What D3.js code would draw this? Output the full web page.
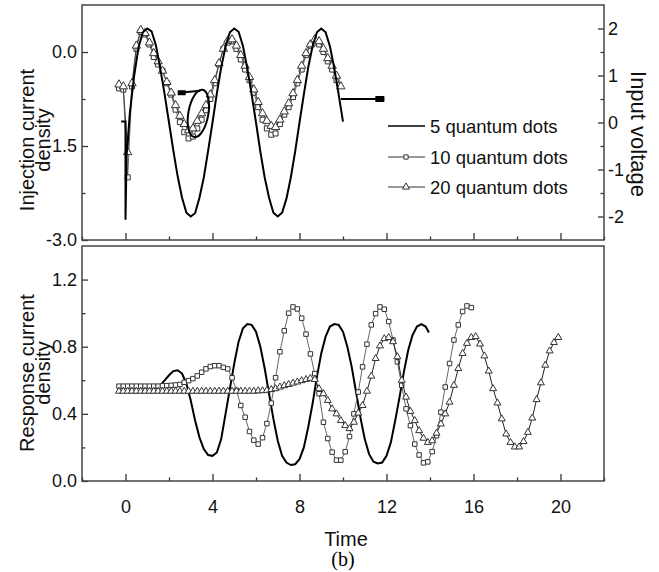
<!DOCTYPE html>
<html>
<head>
<meta charset="utf-8">
<script src="https://cdn.jsdelivr.net/npm/d3@7"></script>
<style>
  body { margin: 0; background: #fff; }
  text { font-family: "Liberation Sans", Arial, sans-serif; }
</style>
</head>
<body>
<script>
// ---- data ----
// x tick values
const xTicks = [0, 4, 8, 12, 16, 20];
const xMinor = [-2, 2, 6, 10, 14, 18, 22];
const topLeftTicks = [0.0, -1.5, -3.0];
const topLeftMinor = [-0.75, -2.25];
const topRightTicks = [2, 1, 0, -1, -2];
const topRightMinor = [1.5, 0.5, -0.5, -1.5];
const botTicks = [0.0, 0.4, 0.8, 1.2];
const botMinor = [0.2, 0.6, 1.0];

const seriesNames = ["5 quantum dots", "10 quantum dots", "20 quantum dots"];

// top panel, solid line = input voltage (right axis)
const topVoltTime = [-0.2, 0, 0, 0.05, 0.2, 0.4, 0.6, 0.8,
  1.0, 1.2, 1.4, 1.6, 1.8, 2.0, 2.2, 2.4, 2.6, 2.8,
  3.0, 3.2, 3.4, 3.6, 3.8, 4.0, 4.2, 4.4, 4.6, 4.8,
  5.0, 5.2, 5.4, 5.6, 5.8, 6.0, 6.2, 6.4, 6.6, 6.8,
  7.0, 7.2, 7.4, 7.6, 7.8, 8.0, 8.2, 8.4, 8.6, 8.8,
  9.0, 9.2, 9.4, 9.6, 9.8, 10.0];
const topVolt = [0.02, 0.02, -2.07, -0.7, 0.2, 1.0, 1.6, 1.92,
  2.0, 1.94, 1.64, 1.14, 0.6, 0.0, -0.6, -1.15, -1.6, -1.92,
  -2.0, -1.93, -1.6, -1.17, -0.6, 0.0, 0.62, 1.17, 1.62, 1.92,
  2.0, 1.93, 1.63, 1.15, 0.6, 0.0, -0.62, -1.17, -1.6, -1.92,
  -2.0, -1.92, -1.62, -1.17, -0.62, 0.0, 0.6, 1.17, 1.62, 1.92,
  2.0, 1.92, 1.62, 1.15, 0.6, 0.02];

// top panel markers = injection current density (left axis), sampled every 0.2 from t=-0.3
const topStart = -0.3, topStep = 0.2;
const top10 = [-0.58, -0.6, -2.0, -0.55, 0.05, 0.32, 0.28, 0.12, -0.08, -0.2,
  -0.3, -0.5, -0.68, -0.92, -1.12, -1.28, -1.38, -1.35, -1.22, -1.08,
  -0.93, -0.75, -0.5, -0.2, 0.05, 0.15, 0.17, 0.05, -0.12, -0.28,
  -0.45, -0.65, -0.88, -1.08, -1.22, -1.32, -1.3, -1.15, -1.0, -0.88,
  -0.72, -0.5, -0.28, -0.05, 0.1, 0.15, 0.12, 0.0, -0.15, -0.28, -0.45];
const top20 = [-0.52, -0.55, -1.6, -0.5, 0.1, 0.35, 0.3, 0.15, -0.02, -0.15,
  -0.3, -0.48, -0.65, -0.85, -1.02, -1.15, -1.25, -1.22, -1.1, -0.98,
  -0.85, -0.68, -0.45, -0.18, 0.05, 0.18, 0.2, 0.1, -0.05, -0.22,
  -0.4, -0.6, -0.8, -0.98, -1.1, -1.18, -1.2, -1.08, -0.95, -0.82,
  -0.66, -0.45, -0.22, -0.02, 0.12, 0.2, 0.17, 0.05, -0.1, -0.22, -0.38, -0.55];

// bottom panel, response current density
const bot5Time = [-0.4, 0, 1.0, 1.6, 1.8, 2.0, 2.2, 2.4, 2.6, 2.8,
  3.0, 3.2, 3.4, 3.6, 3.8, 4.0, 4.2, 4.4, 4.6, 4.8,
  5.0, 5.2, 5.4, 5.6, 5.8, 6.0, 6.2, 6.4, 6.6, 6.8,
  7.0, 7.2, 7.4, 7.6, 7.8, 8.0, 8.2, 8.4, 8.6, 8.8,
  9.0, 9.2, 9.4, 9.6, 9.8, 10.0, 10.2, 10.4, 10.6, 10.8,
  11.0, 11.2, 11.4, 11.6, 11.8, 12.0, 12.2, 12.4, 12.6, 12.8,
  13.0, 13.2, 13.4, 13.6, 13.8, 13.95];
const bot5 = [0.56, 0.56, 0.56, 0.57, 0.6, 0.63, 0.655, 0.66, 0.64, 0.58,
  0.48, 0.36, 0.26, 0.19, 0.155, 0.15, 0.17, 0.25, 0.4, 0.55,
  0.7, 0.83, 0.91, 0.935, 0.93, 0.89, 0.8, 0.67, 0.52, 0.37,
  0.24, 0.15, 0.11, 0.095, 0.1, 0.13, 0.2, 0.32, 0.46, 0.62,
  0.76, 0.86, 0.92, 0.935, 0.93, 0.89, 0.8, 0.68, 0.53, 0.38,
  0.25, 0.16, 0.115, 0.105, 0.11, 0.15, 0.23, 0.36, 0.5, 0.65,
  0.78, 0.87, 0.92, 0.935, 0.92, 0.885];

// markers sampled every 0.2 from t=-0.3
const botStart = -0.3, botStep = 0.2;
const bot10 = [0.565, 0.565, 0.565, 0.565, 0.565, 0.565, 0.565, 0.565, 0.565, 0.565,
  0.567, 0.568, 0.57, 0.572, 0.575, 0.588, 0.598, 0.61, 0.626, 0.648,
  0.668, 0.682, 0.687, 0.687, 0.677, 0.668, 0.615, 0.54, 0.45, 0.38,
  0.295, 0.243, 0.22, 0.258, 0.342, 0.464, 0.615, 0.77, 0.895, 1.0,
  1.037, 1.025, 0.97, 0.875, 0.757, 0.64, 0.52, 0.35, 0.253, 0.172,
  0.124, 0.124, 0.174, 0.265, 0.4, 0.53, 0.68, 0.815, 0.93, 0.997,
  1.037, 1.023, 0.95, 0.84, 0.71, 0.57, 0.43, 0.33, 0.22, 0.155,
  0.108, 0.114, 0.175, 0.27, 0.41, 0.56, 0.7, 0.84, 0.93, 1.01,
  1.043, 1.033];
const bot20 = [0.535, 0.535, 0.535, 0.535, 0.535, 0.535, 0.535, 0.535, 0.535, 0.535,
  0.535, 0.535, 0.535, 0.535, 0.535, 0.535, 0.535, 0.535, 0.535, 0.535,
  0.535, 0.535, 0.535, 0.535, 0.535, 0.535, 0.535, 0.535, 0.535, 0.535,
  0.535, 0.535, 0.537, 0.538, 0.54, 0.545, 0.55, 0.56, 0.568, 0.575,
  0.583, 0.59, 0.598, 0.605, 0.612, 0.605, 0.55, 0.52, 0.48, 0.43,
  0.4, 0.36, 0.33, 0.312, 0.35, 0.405, 0.45, 0.535, 0.625, 0.73,
  0.805, 0.848, 0.855, 0.83, 0.74, 0.6, 0.5, 0.415, 0.36, 0.3,
  0.255, 0.23, 0.24, 0.285, 0.34, 0.4, 0.47, 0.57, 0.67, 0.76,
  0.82, 0.855, 0.86, 0.816, 0.745, 0.655, 0.55, 0.465, 0.37, 0.28,
  0.23, 0.203, 0.203, 0.235, 0.29, 0.375, 0.485, 0.585, 0.69, 0.775,
  0.825, 0.855];

// ---- drawing ----
let width = 659;
let height = 572;
let svg = d3.select("body").append("svg")
  .attr("width", width).attr("height", height);

let xScale = d3.scaleLinear().domain([-2, 22]).range([82, 604]);
let yTopL = d3.scaleLinear().domain([-3, 0.75]).range([240, 5]);
let yTopR = d3.scaleLinear().domain([-2.5, 2.5]).range([240, 5]);
let yBot = d3.scaleLinear().domain([0, 1.4]).range([481, 246]);

function hyphen(f) { return d => f(d).replace("\u2212", "-"); }

function addAxis(axis, tx, ty) {
  let g = svg.append("g").attr("transform", "translate(" + tx + "," + ty + ")").call(axis);
  g.select(".domain").remove();
  g.selectAll("line").attr("stroke", "#333").attr("stroke-width", 1.3);
  g.selectAll("text").style("font-size", "18px").attr("fill", "#111");
  return g;
}

// top panel axes
addAxis(d3.axisBottom(xScale).tickValues(xTicks).tickSize(-7).tickFormat(""), 0, 240);
addAxis(d3.axisBottom(xScale).tickValues(xMinor).tickSize(-3.5).tickFormat(""), 0, 240);
addAxis(d3.axisLeft(yTopL).tickValues(topLeftTicks).tickSize(-6).tickPadding(5)
  .tickFormat(hyphen(d3.format(".1f"))), 82, 0);
addAxis(d3.axisLeft(yTopL).tickValues(topLeftMinor).tickSize(-3.5).tickFormat(""), 82, 0);
addAxis(d3.axisRight(yTopR).tickValues(topRightTicks).tickSize(-6).tickPadding(4)
  .tickFormat(hyphen(d3.format("d"))), 604, 0);
addAxis(d3.axisRight(yTopR).tickValues(topRightMinor).tickSize(-3.5).tickFormat(""), 604, 0);

// bottom panel axes
addAxis(d3.axisBottom(xScale).tickValues(xTicks).tickSize(-7).tickPadding(19)
  .tickFormat(d3.format("d")), 0, 481);
addAxis(d3.axisBottom(xScale).tickValues(xMinor).tickSize(-3.5).tickFormat(""), 0, 481);
addAxis(d3.axisLeft(yBot).tickValues(botTicks).tickSize(-6).tickPadding(5)
  .tickFormat(d3.format(".1f")), 82, 0);
addAxis(d3.axisLeft(yBot).tickValues(botMinor).tickSize(-3.5).tickFormat(""), 82, 0);

// frames
svg.append("rect").attr("x", 82).attr("y", 5).attr("width", 522).attr("height", 235)
  .attr("fill", "none").attr("stroke", "#444").attr("stroke-width", 1.5);
svg.append("rect").attr("x", 82).attr("y", 246).attr("width", 522).attr("height", 235)
  .attr("fill", "none").attr("stroke", "#444").attr("stroke-width", 1.5);

// helpers
function pairs(times, vals) { return vals.map((v, i) => [times[i], v]); }
function sampled(start, step, vals) { return vals.map((v, i) => [start + step * i, v]); }

function drawMarkers(data, y, type, size, lineColor) {
  svg.append("path").datum(data)
    .attr("d", d3.line().x(d => xScale(d[0])).y(d => y(d[1])))
    .attr("fill", "none").attr("stroke", lineColor).attr("stroke-width", 1);
  svg.append("g").selectAll("path").data(data).enter().append("path")
    .attr("transform", d => "translate(" + xScale(d[0]) + "," + y(d[1]) + ")")
    .attr("d", d3.symbol().type(type).size(size))
    .attr("fill", "#fff").attr("stroke", "#333").attr("stroke-width", 1);
}

// top panel marks
drawMarkers(sampled(topStart, topStep, top10), yTopL, d3.symbolSquare, 25, "#666");
drawMarkers(sampled(topStart, topStep, top20), yTopL, d3.symbolTriangle, 30, "#444");
svg.append("path").datum(pairs(topVoltTime, topVolt))
  .attr("d", d3.line().x(d => xScale(d[0])).y(d => yTopR(d[1])))
  .attr("fill", "none").attr("stroke", "#000").attr("stroke-width", 2);

// annotations: ellipse pointing to left axis, arrow to right axis
let ex = xScale(3.35), ey = yTopL(-0.98);
svg.append("ellipse").attr("cx", ex).attr("cy", ey).attr("rx", 10).attr("ry", 24)
  .attr("transform", "rotate(10," + ex + "," + ey + ")")
  .attr("fill", "none").attr("stroke", "#000").attr("stroke-width", 2);
svg.append("line").attr("x1", xScale(2.45)).attr("x2", xScale(3.45))
  .attr("y1", yTopL(-0.65)).attr("y2", yTopL(-0.62))
  .attr("stroke", "#000").attr("stroke-width", 2);
svg.append("rect").attr("x", xScale(2.4)).attr("y", yTopL(-0.65) - 2.5)
  .attr("width", 8).attr("height", 5).attr("fill", "#000");
svg.append("line").attr("x1", xScale(9.9)).attr("x2", xScale(11.9))
  .attr("y1", yTopR(0.5)).attr("y2", yTopR(0.5))
  .attr("stroke", "#000").attr("stroke-width", 2);
svg.append("rect").attr("x", xScale(11.9) - 9).attr("y", yTopR(0.5) - 3)
  .attr("width", 9).attr("height", 6).attr("fill", "#000");

// bottom panel marks
svg.append("path").datum(pairs(bot5Time, bot5))
  .attr("d", d3.line().x(d => xScale(d[0])).y(d => yBot(d[1])))
  .attr("fill", "none").attr("stroke", "#000").attr("stroke-width", 2);
drawMarkers(sampled(botStart, botStep, bot10), yBot, d3.symbolSquare, 20, "#666");
drawMarkers(sampled(botStart, botStep, bot20), yBot, d3.symbolTriangle, 21, "#222");

// legend
let legendY = [126, 157, 187];
seriesNames.forEach(function(name, i) {
  let g = svg.append("g").attr("transform", "translate(388," + legendY[i] + ")");
  g.append("line").attr("x1", 0).attr("x2", 37).attr("y1", 0).attr("y2", 0)
    .attr("stroke", i == 0 ? "#000" : "#333").attr("stroke-width", i == 0 ? 1.5 : 1);
  if (i > 0) {
    g.append("path").attr("transform", "translate(18,0)")
      .attr("d", d3.symbol().type(i == 1 ? d3.symbolSquare : d3.symbolTriangle).size(i == 1 ? 18 : 22))
      .attr("fill", "#fff").attr("stroke", "#333");
  }
  g.append("text").attr("x", 42).attr("dy", "0.36em").text(name)
    .style("font-size", "18.5px").attr("fill", "#111");
});

// axis titles
function vTitle(lines, x0, yc, rot) {
  lines.forEach(function(t, i) {
    svg.append("text")
      .attr("transform", "translate(" + (x0 + i * 16) + "," + yc + ") rotate(" + rot + ")")
      .attr("text-anchor", "middle").style("font-size", "20px").attr("fill", "#111")
      .text(t);
  });
}
vTitle(["Injection current", "density"], 34, 140, -90);
vTitle(["Response current", "density"], 34, 373, -90);
svg.append("text").attr("transform", "translate(631,134) rotate(90)")
  .attr("text-anchor", "middle").style("font-size", "22px").attr("fill", "#111")
  .text("Input voltage");

svg.append("text").attr("x", 346).attr("y", 546).attr("text-anchor", "middle")
  .style("font-size", "20px").attr("fill", "#111").text("Time");
svg.append("text").attr("x", 343).attr("y", 566).attr("text-anchor", "middle")
  .style("font-family", "'Liberation Serif', 'Times New Roman', serif")
  .style("font-size", "20px").attr("fill", "#000").text("(b)");
</script>
</body>
</html>
